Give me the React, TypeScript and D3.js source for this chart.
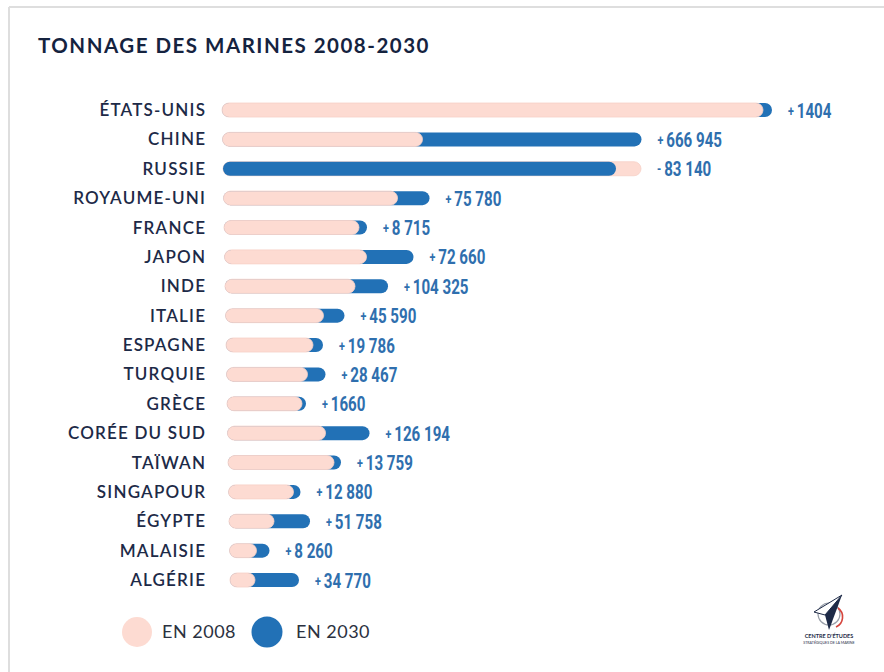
import React from "react";
import * as d3 from "d3";

const countries = [
  "ÉTATS-UNIS", "CHINE", "RUSSIE", "ROYAUME-UNI", "FRANCE", "JAPON", "INDE", "ITALIE",
  "ESPAGNE", "TURQUIE", "GRÈCE", "CORÉE DU SUD", "TAÏWAN", "SINGAPOUR", "ÉGYPTE", "MALAISIE", "ALGÉRIE",
];
// bar lengths as drawn (arbitrary units)
const value2008 = [1623, 600, 1254, 522, 405, 426, 390, 294, 261, 243, 225, 294, 318, 195, 135, 81, 75];
const value2030 = [1650, 1257, 1179, 618, 429, 567, 489, 357, 291, 297, 237, 426, 339, 216, 243, 120, 207];
// printed change in tonnage
const deltaLabels = [
  "1404", "666 945", "83 140", "75 780", "8 715", "72 660", "104 325", "45 590", "19 786",
  "28 467", "1660", "126 194", "13 759", "12 880", "51 758", "8 260", "34 770",
];
const deltaSigns = ["+", "+", "-", "+", "+", "+", "+", "+", "+", "+", "+", "+", "+", "+", "+", "+", "+"];
const legendLabels = ["EN 2008", "EN 2030"];
const title = "TONNAGE DES MARINES 2008-2030";

const PINK = "#fddbd2";
const PINK_STROKE = "#f6d0c7";
const BLUE = "#2271b6";
const NAVY = "#1d2a47";

export default function App() {
  const W = 884, H = 672;
  const x = d3.scaleLinear().domain([0, 1650]).range([0, 550]);
  const y = d3.scalePoint<string>().domain(countries).range([110, 580]);
  const startX = (i: number) => 222 + i * 0.5;
  const bh = 14;

  return (
    <svg width={W} height={H} style={{ position: "absolute", left: 0, top: 0, background: "#fff" }}>
      <rect x={0} y={0} width={W} height={H} fill="#fff" />
      <line x1={9} y1={7} x2={W} y2={7} stroke="#dedede" strokeWidth={2} />
      <line x1={9} y1={7} x2={9} y2={H} stroke="#dedede" strokeWidth={2} />
      <text x={38} y={53} fontFamily="Lato, 'Open Sans', sans-serif" fontWeight={700} fontSize={20.5}
        letterSpacing={1.5} fill="#15233f">
        {title}
      </text>
      {countries.map((c, i) => {
        const cy = y(c)!;
        const x0 = startX(i);
        const bars = [
          { v: value2008[i], fill: PINK, stroke: PINK_STROKE },
          { v: value2030[i], fill: BLUE, stroke: "none" },
        ].sort((a, b) => b.v - a.v);
        const end = x0 + x(Math.max(value2008[i], value2030[i]));
        return (
          <g key={c}>
            <text x={206.2} y={cy + 6} textAnchor="end" fontFamily="Lato, sans-serif" fontWeight={600} fontSize={17}
              letterSpacing={1.2} fill={NAVY}>
              {c}
            </text>
            {bars.map((b, k) => (
              <rect key={k} x={x0} y={cy - bh / 2} width={x(b.v)} height={bh} rx={bh / 2}
                fill={b.fill} stroke={b.stroke} strokeWidth={0.8} />
            ))}
            <g transform={`translate(${end + 16},${cy + 7.5}) scale(0.72,1)`}>
              <text x={0} y={0} fontFamily="Roboto, sans-serif" fontWeight={700} fontSize={21} fill="#2f6fae">
                <tspan fontSize={15} dy={-2}>{deltaSigns[i]}</tspan>
                <tspan dx={4} dy={2}>{deltaLabels[i]}</tspan>
              </text>
            </g>
          </g>
        );
      })}
      {/* legend */}
      <circle cx={137} cy={632} r={15} fill={PINK} />
      <text x={162} y={638} fontFamily="Lato, sans-serif" fontSize={18} letterSpacing={0.5} fill="#2b3140">{legendLabels[0]}</text>
      <circle cx={267} cy={632} r={15.5} fill={BLUE} />
      <text x={296} y={638} fontFamily="Lato, sans-serif" fontSize={18} letterSpacing={0.5} fill="#2b3140">{legendLabels[1]}</text>
      {/* logo */}
      <g>
        <circle cx={829} cy={614} r={11} fill="none" stroke="#9aa0aa" strokeWidth={1.2} />
        <path d="M838,608 A11,11 0 0,1 836,627" fill="none" stroke="#d6453d" strokeWidth={1.6} />
        <path d="M842,595 L814,612 L825,615 Z" fill="#fff" stroke="#1d2a47" strokeWidth={1} />
        <path d="M842,595 L825,615 L829,630 Z" fill="#1d2a47" />
        <text x={829} y={638} textAnchor="middle" fontFamily="Lato, sans-serif" fontWeight={700} fontSize={5.5} fill="#1d2a47">
          CENTRE D'ÉTUDES
        </text>
        <text x={829} y={644} textAnchor="middle" fontFamily="Lato, sans-serif" fontSize={3.6} fill="#1d2a47">
          STRATÉGIQUES DE LA MARINE
        </text>
      </g>
    </svg>
  );
}
